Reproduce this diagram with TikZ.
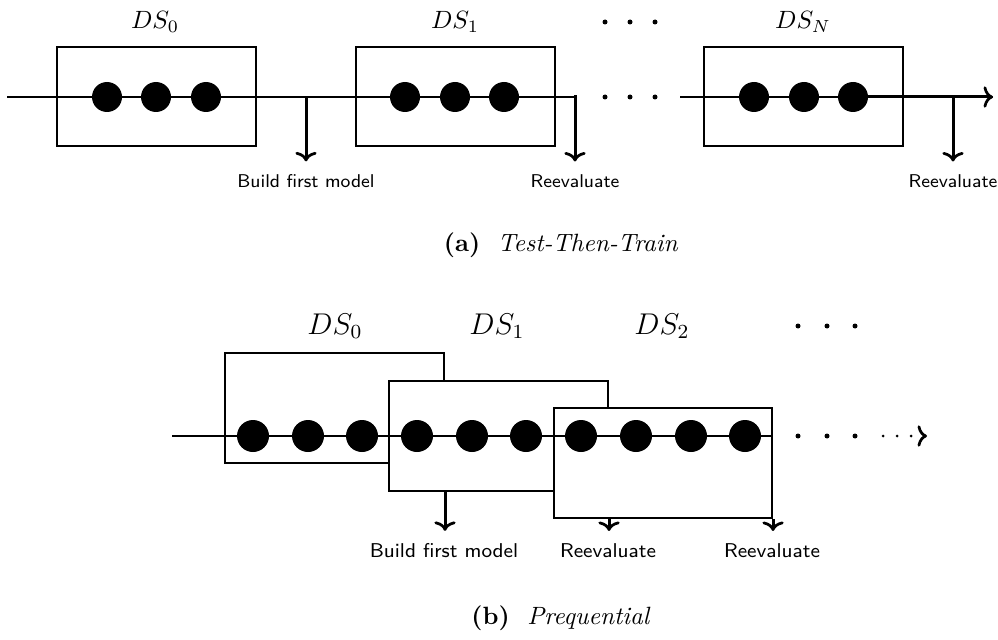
\documentclass[tikz,border=0pt]{standalone}
\usetikzlibrary{arrows.meta}
\begin{document}
\begin{tikzpicture}[x=0.4pt,y=-0.4pt,
  axis/.style={line width=0.8pt},
  frame/.style={draw,line width=0.8pt,fill=white,inner sep=0pt},
  ball/.style={circle,fill=black,inner sep=0pt,minimum size=12pt},
  bigball/.style={circle,fill=black,inner sep=0pt,minimum size=12.8pt},
  tip/.tip={To[length=3.8pt,width=8.5pt,line width=1.1pt]},
  tick/.style={line width=1.2pt,-tip},
  note/.style={font=\fontsize{7.4}{8}\selectfont\sffamily,inner sep=0pt},
  bignote/.style={font=\fontsize{8}{9}\selectfont\sffamily,inner sep=0pt},
  ellip/.style={circle,fill=black,inner sep=0pt,minimum size=2pt},
]
\useasboundingbox (0,0) rectangle (998,639);

% ---------------- (a) Test-Then-Train ----------------
\node[frame,minimum width=79.6pt,minimum height=39.6pt] (a0) at (156.5,96.5) {};
\node[frame,minimum width=79.6pt,minimum height=39.6pt] (a1) at (455.5,96.5) {};
\node[frame,minimum width=79.6pt,minimum height=39.6pt] (aN) at (803.5,96.5) {};

\node (la0) at (155,22) {$DS_0$};
\node (la1) at (455,22) {$DS_1$};
\node (laN) at (803,22) {$DS_N$};

\coordinate (astart) at (7,97);
\coordinate (abuild) at (306,97);
\coordinate (areev1) at (577,97);
\coordinate (arestart) at (680,97);
\coordinate (aend) at (993,97);
\coordinate (areev2) at (953,97);

\draw[axis] (astart) -- (areev1);
\draw[axis] (arestart) -- (aend);

\foreach \n/\x in {1/107,2/156,3/206}{\node[ball] (a0d\n) at (\x,97) {};}
\foreach \n/\x in {1/405,2/455,3/504}{\node[ball] (a1d\n) at (\x,97) {};}
\foreach \n/\x in {1/754,2/804,3/853}{\node[ball] (aNd\n) at (\x,97) {};}

\draw[line width=1.2pt,-tip] (aNd3.center) -- (aend);

\foreach \n/\x in {1/605,2/630,3/655}{
  \node[ellip] (amid\n) at (\x,97) {};
  \node[ellip] (atop\n) at (\x,22) {};
}

\node[note] (nbuild) at (306,181) {Build first model};
\node[note] (nreev1) at (575,181) {Reevaluate};
\node[note] (nreev2) at (953,181) {Reevaluate};
\draw[tick] (abuild) -- ([yshift=5pt]nbuild.north);
\draw[tick] (areev1) -| ([yshift=5pt]nreev1.north);
\draw[tick] (areev2) -- ([yshift=5pt]nreev2.north);

\node (capa) at (561,245) {\textbf{(a)}\hspace{0.7em}\textit{Test-Then-Train}};

% ---------------- (b) Prequential ----------------
\node[frame,minimum width=87.6pt,minimum height=44pt] (b0) at (334.5,408) {};
\node[frame,minimum width=87.6pt,minimum height=44pt] (b1) at (498.5,436) {};
\node[frame,minimum width=87.2pt,minimum height=44pt] (b2) at (663,463) {};

\node[font=\large] (lb0) at (335,326) {$DS_0$};
\node[font=\large] (lb1) at (497,326) {$DS_1$};
\node[font=\large] (lb2) at (662,326) {$DS_2$};

\coordinate (bstart) at (172,436);
\coordinate (bend) at (772,436);
\draw[axis] (bstart) -- (bend);

\foreach \n/\x in {1/253,2/308,3/362,4/417,5/472,6/526,7/581,8/636,9/691,10/745}{
  \node[bigball] (bd\n) at (\x,436) {};
}

\foreach \n/\x in {1/798,2/827,3/855}{
  \node[ellip] (bmid\n) at (\x,436) {};
  \node[ellip] (btop\n) at (\x,326) {};
}
\coordinate (bdotsA) at (883,436);
\coordinate (bdotsB) at (927,436);
\draw[line width=1.2pt,line cap=round,dash pattern=on 0pt off 5.6pt,-tip]
  (bdotsA) -- (bdotsB);

\node[bignote] (mbuild) at (444,551) {Build first model};
\node[bignote] (mreev1) at (608,551) {Reevaluate};
\node[bignote] (mreev2) at (772,551) {Reevaluate};
\coordinate (pbuild) at (b1.south -| b0.east);
\coordinate (preev1) at (b2.south -| b1.east);
\coordinate (preev2) at (b2.south east);
\draw[tick] (pbuild) -- ([yshift=5pt]pbuild |- mbuild.north);
\draw[tick] (preev1) -- ([yshift=5pt]preev1 |- mreev1.north);
\draw[tick] (preev2) -- ([yshift=5pt]preev2 |- mreev2.north);

\node (capb) at (561,618) {\textbf{(b)}\hspace{0.7em}\textit{Prequential}};
\end{tikzpicture}
\end{document}
